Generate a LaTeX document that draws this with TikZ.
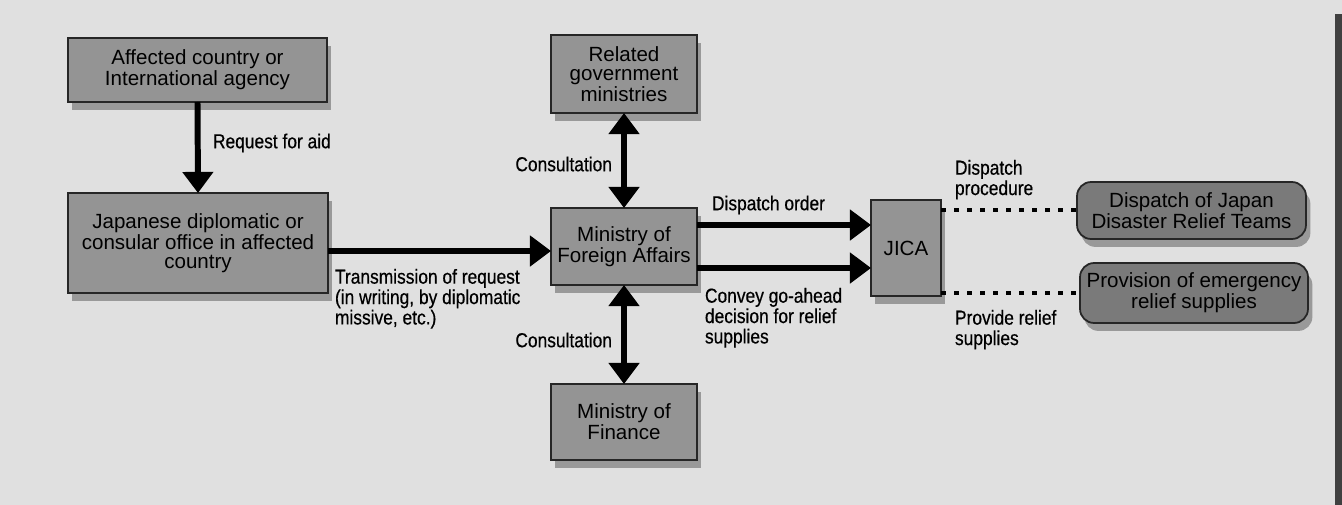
\documentclass[tikz,border=0pt]{standalone}
\usepackage{fontspec}
\setmainfont{Liberation Sans}
\newfontfamily\lblfont[FakeStretch=0.86,FakeBold=0.5]{Liberation Sans}
\usetikzlibrary{arrows.meta,shadows,calc}
\tikzset{
  box/.style={draw=black!85, line width=1pt, fill=black!42, inner sep=0pt, outer sep=0pt,
    align=center, font=\fontsize{11.7}{10.8}\selectfont,
    drop shadow={shadow xshift=2.5pt, shadow yshift=-4.5pt, fill=black!40, opacity=1}},
  rbox/.style={box, rounded corners=8pt, fill=black!52},
  lbl/.style={inner sep=0pt, outer sep=0pt, align=left, font=\lblfont\fontsize{11.5}{11.6}\selectfont},
  bigarrow/.style={line width=3.4pt, -{Triangle[width=17pt,length=12pt]}},
  dblarrow/.style={line width=3.4pt, {Triangle[width=17pt,length=12pt]}-{Triangle[width=17pt,length=12pt]}},
  dotline/.style={line width=2.8pt, dash pattern=on 2.8pt off 4.6pt}
}
\begin{document}
\begin{tikzpicture}[x=0.02cm, y=-0.02cm]
\useasboundingbox (0,0) rectangle (1342,504);
\fill[black!12] (-3,-3) rectangle (1345,507);
\fill[black!75] (1335,14) rectangle (1345,507);

\node[box, minimum width=5.18cm, minimum height=1.28cm] (aff) at (197.5,70) {Affected country or\\International agency};
\node[box, minimum width=5.2cm, minimum height=2.0cm] (jap) at (198,243) {Japanese diplomatic or\\consular office in affected\\country};
\node[box, minimum width=2.92cm, minimum height=1.56cm] (rel) at (624,74) {Related\\government\\ministries};
\node[box, minimum width=2.92cm, minimum height=1.54cm] (mofa) at (624,246.5) {Ministry of\\Foreign Affairs};
\node[box, minimum width=2.92cm, minimum height=1.52cm] (fin) at (624,422) {Ministry of\\Finance};
\node[box, minimum width=1.4cm, minimum height=1.92cm] (jica) at (906,248) {JICA};
\node[rbox, minimum width=4.58cm, minimum height=1.14cm] (disp) at (1191.5,210.5) {Dispatch of Japan\\Disaster Relief Teams};
\node[rbox, minimum width=4.56cm, minimum height=1.2cm] (prov) at (1194,293) {Provision of emergency\\relief supplies};

\draw[bigarrow] (aff.south) -- (jap.north);
\draw[bigarrow] (jap.east |- 0,251) -- (mofa.west |- 0,251);
\draw[dblarrow] (rel.south) -- (mofa.north);
\draw[dblarrow] (mofa.south) -- (fin.north);
\draw[bigarrow] (mofa.east |- 0,225) -- (jica.west |- 0,225);
\draw[bigarrow] (mofa.east |- 0,268) -- (jica.west |- 0,268);
\draw[dotline] (jica.east |- 0,210) -- (disp.west |- 0,210);
\draw[dotline] (jica.east |- 0,293) -- (prov.west |- 0,293);

\node[lbl, anchor=west] (lreq) at (213,143) {Request for aid};
\node[lbl, anchor=north west] (ltrans) at (335,269) {Transmission of request\\(in writing, by diplomatic\\missive, etc.)};
\node[lbl, anchor=east] (lcon1) at (612,164) {Consultation};
\node[lbl, anchor=east] (lcon2) at (612,340) {Consultation};
\node[lbl, anchor=west] (ldisp) at (712,205) {Dispatch order};
\node[lbl, anchor=north west] (lconv) at (705,288) {Convey go-ahead\\decision for relief\\supplies};
\node[lbl, anchor=north west] (lproc) at (955,160) {Dispatch\\procedure};
\node[lbl, anchor=north west] (lprov) at (955,310) {Provide relief\\supplies};
\end{tikzpicture}
\end{document}
